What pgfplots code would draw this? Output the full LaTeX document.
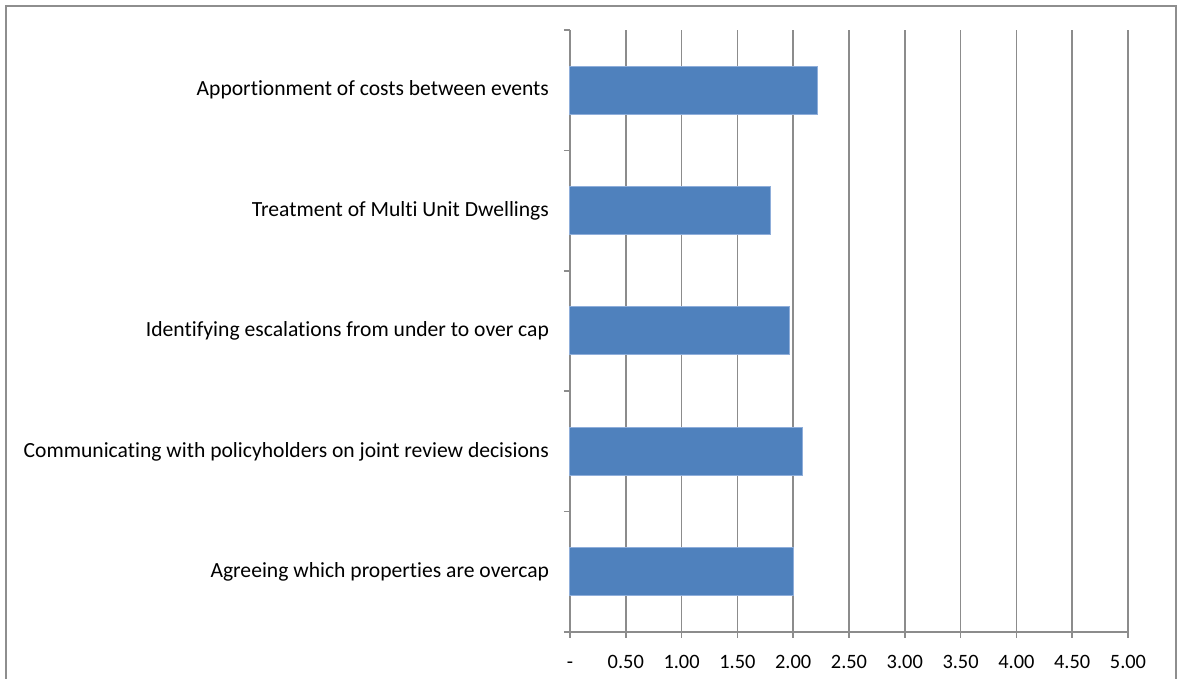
\documentclass[border=0pt]{standalone}
\usepackage{pgfplots}
\pgfplotsset{compat=1.18}
\usepackage{fontspec}
\setmainfont{Carlito}[Ligatures=NoCommon]

\definecolor{barblue}{HTML}{4F81BD}
\definecolor{baredge}{HTML}{8FAEDA}
\definecolor{gridgray}{HTML}{8C8C8C}
\definecolor{framegray}{HTML}{8E8E8E}

\begin{document}
\begin{tikzpicture}
% page extent (axis box lower-left corner sits at the origin)
\useasboundingbox (-285pt,-23.5pt) rectangle (304pt,316pt);
% chart-area border, open at the bottom edge of the page
\draw[framegray, line width=0.9pt] (-282pt,-30pt) rectangle (303pt,313pt);
\begin{axis}[
  at={(0,0)}, anchor=south west,
  scale only axis,
  width=279pt, height=301pt,
  xbar,
  bar width=24pt,
  xmin=0, xmax=5,
  ymin=-0.5, ymax=4.5,
  axis x line*=bottom,
  axis y line*=left,
  axis line style={gridgray, line width=0.75pt},
  xtick={0,0.5,...,5},
  xticklabels={-,0.50,1.00,1.50,2.00,2.50,3.00,3.50,4.00,4.50,5.00},
  xmajorgrids,
  major grid style={gridgray, line width=0.75pt},
  ytick={0,1,2,3,4},
  yticklabels={Agreeing which properties are overcap,
               Communicating with policyholders on joint review decisions\ ,
               Identifying escalations from under to over cap,
               Treatment of Multi Unit Dwellings,
               Apportionment of costs between events},
  minor ytick={-0.5,0.5,1.5,2.5,3.5,4.5},
  tick align=outside,
  major tick length=3pt,
  minor tick length=3pt,
  major y tick style={draw=none},
  minor y tick style={draw=gridgray, line width=0.75pt},
  xtick style={gridgray, line width=0.75pt},
  yticklabel style={font=\fontsize{10.8}{12}\selectfont, text=black, xshift=-4pt},
  xticklabel style={font=\fontsize{10.2}{12}\selectfont, text=black,
                    text height=1.6ex, text depth=0.3ex, yshift=-4pt},
  clip=false,
]
\addplot[fill=barblue, draw=baredge, line width=0.5pt] coordinates {
  (2.00,0)
  (2.08,1)
  (1.965,2)
  (1.80,3)
  (2.215,4)
};
\end{axis}
\end{tikzpicture}
\end{document}
